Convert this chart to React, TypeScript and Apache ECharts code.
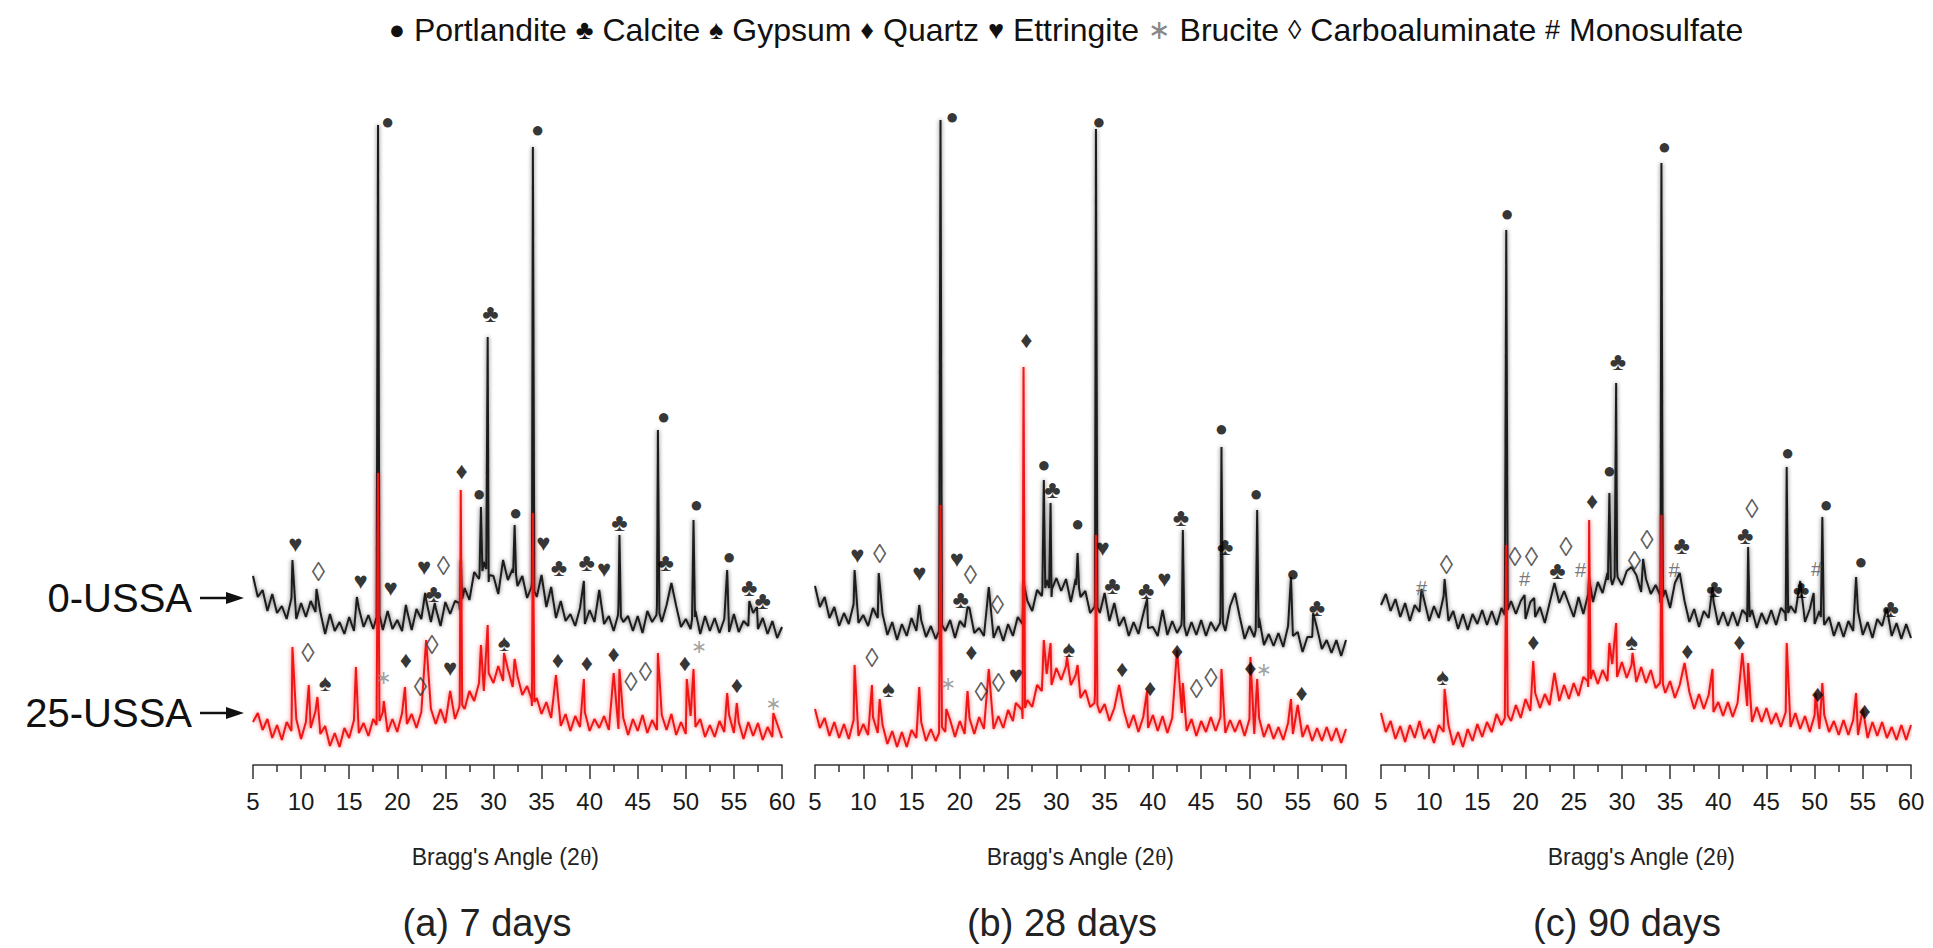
import React, { useEffect, useRef } from "react";
import * as echarts from "echarts";

// Background scans are sampled every 0.5° of 2θ from 5° to 60°.
const SCAN_START = 5;
const SCAN_STEP = 0.5;

// Background intensity (stacked offset, arb. units): 0-USSA and 25-USSA
const bg0_7d = [
  189, 168, 175, 154, 171, 152, 159, 146, 167, 146, 162, 148, 164, 153, 153, 131, 151, 134, 143, 131,
  148, 134, 157, 138, 150, 136, 155, 135, 154, 136, 145, 134, 155, 135, 156, 146, 165, 143, 157, 139,
  163, 151, 164, 155, 177, 165, 193, 186, 203, 183, 189, 171, 197, 185, 196, 179, 189, 167, 184, 168,
  179, 158, 167, 147, 164, 144, 151, 139, 157, 141, 155, 143, 163, 141, 149, 134, 159, 143, 149, 134,
  149, 132, 154, 143, 159, 143, 160, 147, 159, 138, 146, 136, 154, 131, 149, 134, 147, 132, 146, 133,
  151, 133, 144, 139, 152, 136, 147, 131, 144, 127, 138,
];
const bg25_7d = [
  43, 52, 35, 46, 27, 40, 25, 43, 34, 46, 26, 43, 37, 54, 31, 39, 19, 32, 18, 37,
  27, 45, 32, 42, 29, 46, 40, 53, 33, 46, 33, 52, 41, 51, 37, 53, 45, 56, 41, 56,
  42, 58, 46, 65, 56, 74, 64, 82, 74, 92, 82, 99, 84, 96, 78, 89, 70, 79, 59, 67,
  51, 63, 47, 59, 39, 51, 34, 49, 38, 53, 34, 46, 37, 49, 35, 53, 36, 47, 30, 46,
  34, 50, 32, 45, 35, 50, 35, 51, 30, 43, 31, 49, 38, 46, 28, 40, 28, 44, 33, 50,
  32, 43, 26, 43, 29, 42, 25, 38, 28, 41, 27,
];
const bg0_28d = [
  179, 158, 168, 147, 158, 139, 152, 141, 161, 142, 150, 139, 157, 147, 151, 130, 143, 125, 141, 129,
  147, 134, 145, 128, 139, 126, 149, 134, 145, 127, 144, 138, 157, 132, 137, 129, 152, 127, 139, 124,
  141, 129, 148, 141, 164, 154, 175, 169, 185, 168, 187, 174, 186, 163, 186, 168, 174, 152, 163, 152,
  162, 144, 159, 139, 148, 129, 143, 131, 151, 137, 138, 129, 152, 130, 144, 132, 148, 129, 143, 130,
  145, 129, 143, 134, 149, 134, 159, 152, 148, 126, 139, 128, 147, 120, 131, 119, 132, 118, 139, 129,
  133, 113, 128, 128, 137, 116, 125, 112, 125, 109, 125,
];
const bg25_28d = [
  56, 37, 47, 29, 43, 27, 41, 26, 45, 29, 41, 30, 48, 32, 40, 21, 34, 18, 33, 18,
  35, 27, 43, 24, 36, 24, 45, 33, 45, 28, 44, 31, 47, 31, 48, 36, 54, 36, 49, 37,
  55, 44, 60, 46, 65, 58, 80, 74, 91, 80, 97, 85, 99, 80, 90, 67, 75, 58, 70, 52,
  61, 44, 57, 41, 54, 37, 50, 33, 48, 37, 50, 34, 49, 32, 47, 37, 52, 34, 46, 29,
  44, 33, 48, 34, 48, 32, 45, 33, 45, 29, 46, 31, 47, 28, 41, 26, 38, 25, 42, 31,
  47, 28, 40, 24, 37, 24, 38, 24, 37, 22, 36,
];
const bg0_90d = [
  160, 171, 154, 166, 148, 162, 144, 160, 153, 164, 144, 159, 147, 169, 144, 154, 136, 151, 135, 151,
  141, 155, 140, 154, 140, 157, 149, 164, 151, 164, 146, 163, 148, 158, 142, 162, 155, 162, 149, 161,
  148, 168, 151, 171, 163, 183, 172, 192, 180, 195, 180, 194, 178, 190, 173, 186, 171, 180, 162, 175,
  157, 169, 154, 164, 143, 156, 138, 154, 147, 164, 140, 153, 139, 153, 139, 155, 143, 155, 137, 152,
  141, 155, 140, 157, 144, 159, 152, 171, 143, 156, 141, 154, 140, 148, 129, 143, 128, 144, 134, 154,
  130, 143, 127, 146, 139, 156, 129, 142, 126, 141, 127,
];
const bg25_90d = [
  52, 33, 44, 26, 39, 23, 40, 27, 44, 26, 36, 22, 40, 33, 40, 20, 33, 18, 36, 24,
  41, 28, 43, 33, 51, 40, 58, 44, 60, 47, 66, 54, 72, 57, 71, 60, 77, 64, 80, 66,
  82, 69, 88, 78, 95, 81, 95, 84, 101, 88, 103, 87, 100, 83, 98, 82, 95, 77, 87, 72,
  84, 67, 80, 62, 73, 56, 71, 56, 70, 53, 63, 49, 63, 48, 62, 46, 59, 43, 58, 43,
  57, 41, 52, 38, 53, 38, 52, 36, 49, 33, 50, 36, 50, 33, 44, 30, 45, 30, 45, 30,
  44, 27, 43, 29, 43, 27, 38, 25, 40, 25, 40,
];

// Sharp reflections: [2θ, intensity]; the tallest ones carry their narrow feet
const peaks0_7d = [
  [9.1, 205], [11.6, 176], [15.8, 168], [17.85, 148], [18.0, 640], [18.15, 150], [20.9, 160],
  [22.9, 172], [23.9, 162], [26.45, 162], [26.6, 205], [26.75, 166], [28.55, 190], [28.7, 258],
  [28.85, 194], [29.25, 196], [29.4, 428], [29.55, 190], [31.0, 205], [32.05, 192], [32.2, 240],
  [32.35, 190], [33.95, 178], [34.1, 618], [34.25, 174], [35.0, 190], [36.0, 178], [39.4, 184],
  [41.0, 175], [42.95, 150], [43.1, 230], [43.25, 148], [46.95, 150], [47.1, 335], [47.25, 152],
  [48.5, 182], [50.65, 146], [50.8, 245], [50.95, 148], [54.3, 195], [56.6, 164], [57.4, 158],
];
const peaks25_7d = [
  [9.1, 118], [10.8, 80], [11.7, 68], [15.7, 98], [17.85, 40], [18.0, 292], [18.15, 44],
  [18.6, 64], [20.8, 78], [23.0, 125], [25.5, 74], [26.45, 58], [26.6, 275], [26.75, 60],
  [28.7, 120], [29.4, 140], [31.1, 112], [32.2, 106], [33.95, 66], [34.1, 252], [34.25, 63],
  [36.5, 90], [39.4, 86], [42.5, 92], [43.1, 96], [47.1, 112], [50.1, 86], [50.8, 96],
  [54.3, 72], [55.3, 62], [59.1, 52],
];
const peaks0_28d = [
  [9.1, 195], [11.6, 192], [15.8, 160], [17.85, 134], [18.0, 645], [18.15, 140], [20.8, 158],
  [23.0, 178], [26.6, 182], [28.55, 175], [28.7, 285], [28.85, 177], [29.25, 177], [29.4, 262],
  [29.55, 176], [32.05, 180], [32.2, 212], [32.35, 177], [33.95, 158], [34.1, 636], [34.25, 158],
  [35.0, 172], [36.0, 162], [39.4, 166], [41.0, 155], [42.95, 140], [43.1, 235], [43.25, 139],
  [46.95, 142], [47.1, 318], [47.25, 142], [48.5, 172], [50.65, 135], [50.8, 255], [50.95, 137],
  [54.3, 188], [56.6, 152],
];
const peaks25_28d = [
  [9.1, 100], [10.9, 80], [11.7, 66], [15.8, 78], [17.85, 32], [18.0, 260], [18.15, 38],
  [18.6, 56], [20.8, 74], [23.0, 96], [25.8, 62], [26.45, 55], [26.6, 398], [26.75, 57],
  [28.7, 125], [29.4, 122], [31.1, 108], [32.2, 100], [33.95, 62], [34.1, 230], [34.25, 60],
  [36.5, 80], [39.4, 74], [42.5, 115], [43.1, 82], [47.1, 96], [50.1, 108], [50.8, 86],
  [54.3, 66], [55.0, 60],
];
const peaks0_90d = [
  [9.2, 176], [11.6, 186], [17.85, 150], [18.0, 535], [18.15, 155], [19.9, 170], [20.9, 167],
  [23.0, 182], [24.0, 174], [26.6, 186], [28.55, 185], [28.7, 272], [28.85, 187], [29.25, 188],
  [29.4, 382], [29.55, 188], [31.0, 198], [32.2, 206], [33.95, 170], [34.1, 602], [34.25, 168],
  [35.5, 182], [36.0, 192], [39.4, 178], [42.95, 150], [43.1, 218], [43.25, 148], [46.95, 152],
  [47.1, 298], [47.25, 152], [48.5, 184], [49.9, 172], [50.65, 148], [50.8, 248], [50.95, 146],
  [54.3, 188], [57.4, 154],
];
const peaks25_90d = [
  [11.6, 76], [17.85, 47], [18.0, 220], [18.15, 50], [20.8, 104], [23.0, 92], [26.45, 84],
  [26.6, 245], [26.75, 86], [28.7, 122], [29.4, 142], [31.1, 112], [33.95, 82], [34.1, 250],
  [34.25, 81], [36.5, 102], [39.4, 96], [42.5, 112], [43.1, 102], [47.1, 122], [50.1, 72],
  [50.8, 82], [54.3, 72], [55.0, 56],
];

// Phase identification marks: [2θ, height, phase]
const marks_7d: [number, number, string][] = [
  [19.0, 644, "P"], [34.6, 636, "P"], [29.7, 452, "C"], [26.7, 295, "Q"], [28.5, 272, "P"],
  [32.3, 253, "P"], [43.1, 243, "C"], [47.7, 349, "P"], [51.1, 261, "P"],
  [9.4, 222, "E"], [11.8, 193, "A"], [16.2, 185, "E"], [19.3, 178, "E"], [22.8, 199, "E"],
  [24.8, 199, "A"], [23.8, 172, "C"], [35.2, 223, "E"], [36.8, 198, "C"], [39.7, 203, "C"],
  [41.5, 197, "E"], [47.9, 203, "C"], [54.5, 209, "P"], [56.6, 178, "C"], [58.0, 165, "C"],
  [10.7, 112, "A"], [12.5, 83, "G"], [18.6, 88, "B"], [20.9, 106, "Q"], [22.4, 78, "A"],
  [23.6, 120, "A"], [25.5, 98, "E"], [31.1, 123, "G"], [36.7, 106, "Q"], [39.7, 103, "Q"],
  [42.5, 112, "Q"], [44.3, 83, "A"], [45.8, 93, "A"], [49.9, 103, "Q"], [51.4, 119, "B"],
  [55.3, 81, "Q"], [59.1, 62, "B"],
];
const marks_28d: [number, number, string][] = [
  [19.2, 649, "P"], [34.4, 644, "P"], [26.9, 426, "Q"], [28.7, 301, "P"], [29.6, 276, "C"],
  [32.2, 242, "P"], [42.9, 248, "C"], [47.1, 337, "P"], [50.7, 272, "P"], [47.5, 219, "C"],
  [9.4, 211, "E"], [11.7, 211, "A"], [15.8, 193, "E"], [19.7, 207, "E"], [21.1, 190, "A"],
  [20.1, 166, "C"], [23.9, 160, "A"], [34.8, 218, "E"], [35.8, 180, "C"], [39.3, 175, "C"],
  [41.2, 187, "E"], [54.5, 192, "P"], [57.0, 158, "C"],
  [10.9, 107, "A"], [12.6, 77, "G"], [21.2, 114, "Q"], [18.8, 82, "B"], [22.2, 73, "A"],
  [24.0, 82, "A"], [25.8, 91, "E"], [31.3, 117, "G"], [36.8, 97, "Q"], [39.7, 78, "Q"],
  [42.5, 115, "Q"], [44.5, 76, "A"], [46.0, 87, "A"], [50.1, 98, "Q"], [51.5, 96, "B"],
  [55.4, 73, "Q"],
];
const marks_90d: [number, number, string][] = [
  [34.4, 619, "P"], [18.1, 552, "P"], [29.6, 404, "C"], [28.7, 295, "P"], [26.9, 265, "Q"],
  [47.2, 313, "P"], [51.2, 261, "P"], [43.5, 256, "A"], [42.8, 230, "C"], [32.6, 225, "A"],
  [36.2, 220, "C"], [9.2, 177, "M"], [11.8, 200, "A"], [18.9, 208, "A"], [20.6, 208, "A"],
  [19.9, 186, "M"], [23.3, 195, "C"], [24.2, 218, "A"], [25.7, 195, "M"], [31.3, 204, "A"],
  [35.4, 195, "M"], [39.6, 177, "C"], [50.2, 196, "M"], [48.6, 176, "C"], [54.8, 204, "P"],
  [57.9, 157, "C"],
  [11.4, 89, "G"], [20.8, 124, "Q"], [31.0, 124, "G"], [36.8, 115, "Q"], [42.2, 124, "Q"],
  [50.3, 72, "Q"], [55.2, 55, "Q"],
];

// Phases in legend order
const phaseKeys = ["P", "C", "G", "Q", "E", "B", "A", "M"];
const phaseNames = ["Portlandite", "Calcite", "Gypsum", "Quartz", "Ettringite", "Brucite", "Carboaluminate", "Monosulfate"];
const phaseGlyphs = ["●", "♣", "♠", "♦", "♥", "∗", "◊", "#"];

const sampleNames = ["0-USSA", "25-USSA"];
const panelTitles = ["(a) 7 days", "(b) 28 days", "(c) 90 days"];

const panelData = [
  { bg0: bg0_7d, bg25: bg25_7d, p0: peaks0_7d, p25: peaks25_7d, marks: marks_7d },
  { bg0: bg0_28d, bg25: bg25_28d, p0: peaks0_28d, p25: peaks25_28d, marks: marks_28d },
  { bg0: bg0_90d, bg25: bg25_90d, p0: peaks0_90d, p25: peaks25_90d, marks: marks_90d },
];

// ---- layout & styling ----
const FONT = '"Liberation Sans", Arial, "DejaVu Sans", sans-serif';
const GRID_TOP = 105;
const GRID_H = 660;
const Y_MAX = 660;
const panelLayout = [
  { left: 253, width: 529, nameX: 505, titleX: 487 },
  { left: 815, width: 531, nameX: 1080, titleX: 1062 },
  { left: 1381, width: 530, nameX: 1641, titleX: 1627 },
];
const glyphStyle: Record<string, { color: string; size: number }> = {
  P: { color: "#000", size: 22 },
  C: { color: "#000", size: 25 },
  G: { color: "#000", size: 24 },
  Q: { color: "#000", size: 24 },
  E: { color: "#000", size: 24 },
  B: { color: "#8a8a8a", size: 19 },
  A: { color: "#333", size: 27 },
  M: { color: "#555", size: 20 },
};

// Merge the sampled background with the sharp reflections, sorted by 2θ.
function buildScan(bg: number[], peaks: number[][]) {
  const peakAngles = peaks.map((p) => p[0]);
  const pts = bg
    .map((v, i) => [SCAN_START + i * SCAN_STEP, v])
    .filter((p) => !peakAngles.some((a) => Math.abs(a - p[0]) < 1e-6));
  return pts.concat(peaks.map((p) => [p[0], p[1]])).sort((a, b) => a[0] - b[0]);
}

function centeredText(x: number, y: number, text: string, size: number, extra: any = {}) {
  return {
    type: "text",
    x,
    y,
    style: {
      text,
      font: `${size}px ${FONT}`,
      fill: "#1a1a1a",
      align: "center",
      verticalAlign: "middle",
      textAlign: "center",
      textVerticalAlign: "middle",
      ...extra,
    },
  };
}

function buildOption(): echarts.EChartsCoreOption {
  const grid = panelLayout.map((l) => ({ left: l.left, width: l.width, top: GRID_TOP, height: GRID_H }));
  const axisColor = "#333";
  const xAxis = panelLayout.map((_, i) => ({
    gridIndex: i,
    type: "value",
    min: 5,
    max: 60,
    interval: 5,
    axisLine: { show: true, onZero: false, lineStyle: { color: axisColor, width: 1.5 } },
    axisTick: { show: true, length: 14, lineStyle: { color: axisColor, width: 1.5 } },
    minorTick: { show: true, splitNumber: 2, length: 7, lineStyle: { color: axisColor, width: 1.5 } },
    splitLine: { show: false },
    axisLabel: { fontSize: 24, color: "#1a1a1a", margin: 24, fontFamily: FONT },
  }));
  const yAxis = panelLayout.map((_, i) => ({ gridIndex: i, type: "value", min: 0, max: Y_MAX, show: false }));

  const series: any[] = [];
  panelData.forEach((d, i) => {
    series.push({
      type: "line",
      name: sampleNames[0],
      xAxisIndex: i,
      yAxisIndex: i,
      data: buildScan(d.bg0, d.p0),
      symbol: "none",
      silent: true,
      z: 2,
      lineStyle: { color: "#1c1c1c", width: 2, shadowBlur: 4, shadowColor: "rgba(0,0,0,0.6)" },
    });
    series.push({
      type: "line",
      name: sampleNames[1],
      xAxisIndex: i,
      yAxisIndex: i,
      data: buildScan(d.bg25, d.p25),
      symbol: "none",
      silent: true,
      z: 3,
      lineStyle: { color: "#f01418", width: 2, shadowBlur: 4, shadowColor: "rgba(240,20,24,0.6)" },
    });
    series.push({
      type: "scatter",
      xAxisIndex: i,
      yAxisIndex: i,
      silent: true,
      clip: false,
      z: 5,
      symbol: "circle",
      symbolSize: 1,
      itemStyle: { color: "rgba(0,0,0,0)" },
      data: d.marks.map((m) => {
        const k = m[2];
        const gs = glyphStyle[k];
        return {
          value: [m[0], m[1]],
          label: {
            show: true,
            position: "inside",
            formatter: phaseGlyphs[phaseKeys.indexOf(k)],
            color: gs.color,
            fontSize: gs.size,
            fontFamily: FONT,
          },
        };
      }),
    });
  });

  // legend line across the top
  const legendText = phaseKeys
    .map((k, i) => `{${k === "B" ? "g" : "s"}|${phaseGlyphs[i]}} ${phaseNames[i]}`)
    .join(" ");

  const graphic: any[] = [
    centeredText(1066, 30, legendText, 32, {
      fill: "#111",
      rich: {
        s: { fontSize: 27, fontFamily: FONT, fill: "#111", color: "#111" },
        g: { fontSize: 27, fontFamily: FONT, fill: "#888", color: "#888" },
      },
    }),
  ];

  // sample labels with arrows pointing at each trace
  const labelY = [598, 713];
  sampleNames.forEach((name, i) => {
    graphic.push({
      type: "text",
      x: 192,
      y: labelY[i],
      style: {
        text: name,
        font: `40px ${FONT}`,
        fill: "#111",
        align: "right",
        verticalAlign: "middle",
        textAlign: "right",
        textVerticalAlign: "middle",
      },
    });
    graphic.push({
      type: "line",
      shape: { x1: 200, y1: labelY[i], x2: 230, y2: labelY[i] },
      style: { stroke: "#111", lineWidth: 2.5 },
    });
    graphic.push({
      type: "polygon",
      shape: { points: [[226, labelY[i] - 6], [244, labelY[i]], [226, labelY[i] + 6]] },
      style: { fill: "#111" },
    });
  });

  panelLayout.forEach((l, i) => {
    graphic.push(
      centeredText(l.nameX, 857, "Bragg's Angle (2{th|θ})", 23, {
        fill: "#222",
        rich: { th: { fontSize: 23, fontFamily: '"Liberation Serif", serif', fill: "#222", color: "#222" } },
      })
    );
    graphic.push(centeredText(l.titleX, 923, panelTitles[i], 38, { fill: "#222" }));
  });

  return {
    animation: false,
    backgroundColor: "#ffffff",
    textStyle: { fontFamily: FONT },
    grid,
    xAxis,
    yAxis,
    series,
    graphic,
  };
}

export default function App() {
  const ref = useRef<HTMLDivElement>(null);
  useEffect(() => {
    if (!ref.current) return;
    const chart = echarts.init(ref.current, undefined, { renderer: "svg" });
    chart.setOption(buildOption());
    return () => chart.dispose();
  }, []);
  return (
    <div
      ref={ref}
      style={{ position: "fixed", left: 0, top: 0, width: 1933, height: 948, background: "#fff" }}
    />
  );
}
